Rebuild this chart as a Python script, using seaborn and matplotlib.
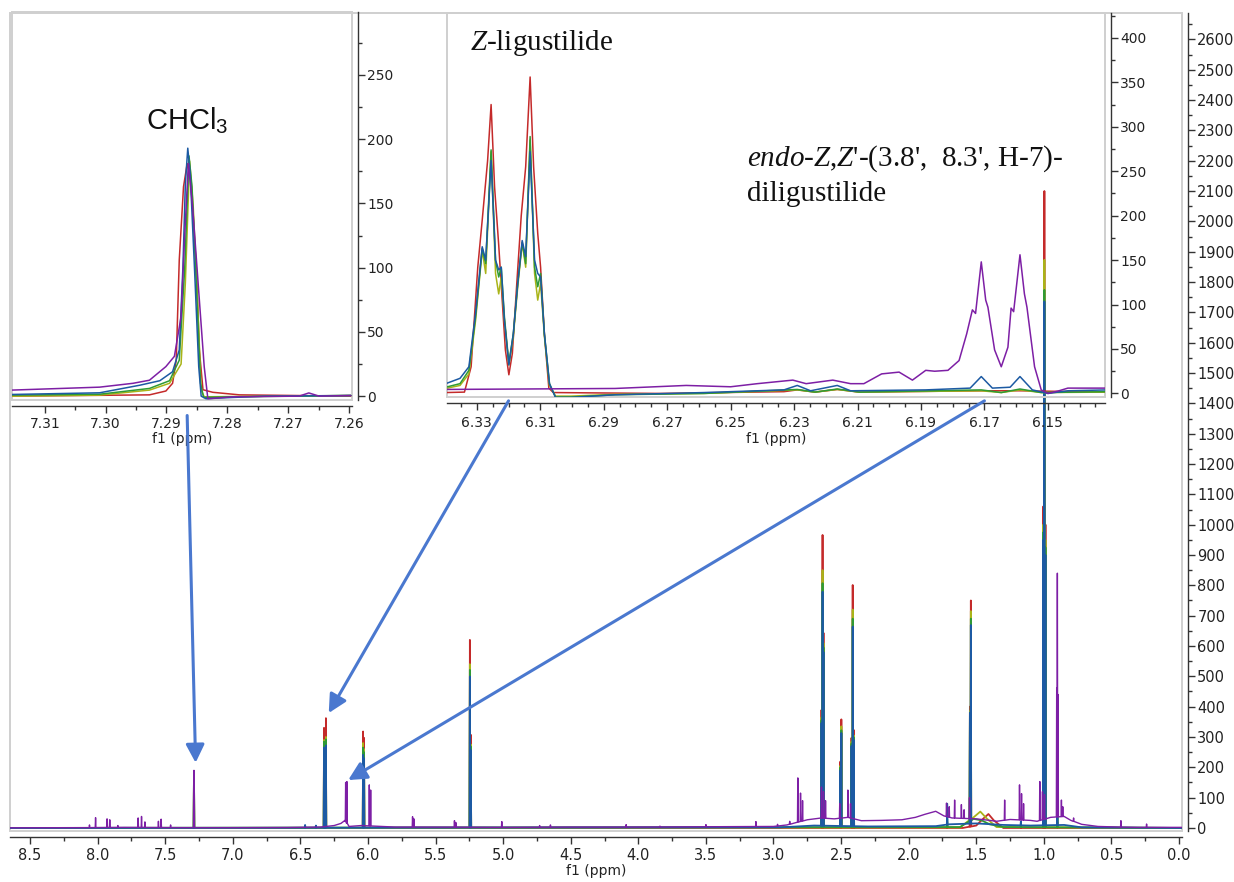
import numpy as np
import matplotlib
matplotlib.use("Agg")
import matplotlib.pyplot as plt
import seaborn as sns
from matplotlib.patches import Rectangle, ConnectionPatch
from matplotlib.ticker import FixedLocator, FormatStrFormatter

# ------------------------------------------------------------
# colours of the five spectra
# ------------------------------------------------------------
RED, YELLOW, GREEN, BLUE, PURPLE = "#c42a2a", "#a9b418", "#2f9a35", "#1c5aa3", "#7d1fa5"

# ------------------------------------------------------------
# main spectrum (f1 ppm, intensity)
# shared multiplet lines of the four extracts
# ------------------------------------------------------------
main_pk_ppm = [7.287, 6.465, 6.385, 6.325, 6.318, 6.311, 6.036, 6.029, 5.246, 5.239,
               2.645, 2.637, 2.630, 2.505, 2.498, 2.423, 2.414, 2.406, 1.715, 1.547,
               1.540, 1.170, 1.004, 0.996, 0.988, 0.900]
red_pk = [180, 3, 2, 330, 300, 362, 318, 297, 620, 307, 389, 966, 643, 219, 358, 297, 801,
          323, 10, 400, 750, 5, 1060, 2100, 1000, 20]
yellow_pk = [178, 3, 3, 290, 270, 300, 280, 260, 540, 275, 365, 850, 610, 205, 335, 285, 720,
             305, 20, 385, 715, 10, 1000, 1873, 950, 40]
green_pk = [183, 4, 4, 285, 265, 292, 265, 250, 521, 268, 355, 807, 595, 200, 322, 278, 690,
            298, 30, 380, 690, 10, 975, 1774, 925, 60]
blue_pk = [188, 10, 8, 265, 250, 272, 241, 230, 499, 257, 346, 779, 580, 190, 313, 270, 664,
           290, 80, 379, 669, 22, 950, 1736, 900, 103]

red_base_ppm = [8.65, 1.60, 1.50, 1.45, 1.41, 1.37, 1.30, -0.02]
red_base = [0, 0, 8, 30, 46, 25, 0, 0]
yellow_base_ppm = [8.65, 1.62, 1.52, 1.47, 1.42, 1.35, -0.02]
yellow_base = [0, 2, 35, 54, 30, 3, 0]
green_base_ppm = [8.65, 1.62, 1.52, 1.46, 1.40, 1.30, -0.02]
green_base = [0, 3, 30, 25, 12, 3, 0]
blue_base_ppm = [8.65, 2.95, 2.70, 2.30, 1.80, 1.70, 1.50, 1.30, 1.10, 0.85, 0.72, -0.02]
blue_base = [0, 2, 8, 5, 6, 12, 15, 10, 8, 10, 2, 0]

# purple extract: own baseline and lines
purple_base_ppm = [8.65, 8.10, 7.80, 7.40, 7.00, 6.60, 6.35, 6.25, 6.20, 6.17, 6.14, 6.05,
                   5.95, 5.80, 5.50, 5.00, 4.50, 4.00, 3.50, 3.00, 2.90, 2.75, 2.65, 2.55,
                   2.45, 2.35, 2.20, 2.05, 1.95, 1.88, 1.80, 1.74, 1.68, 1.50, 1.40, 1.35,
                   1.25, 1.10, 1.05, 0.95, 0.85, 0.80, 0.72, 0.60, 0.45, 0.30, -0.02]
purple_base = [0.5, 1, 2, 1, 1, 1.5, 3, 8, 15, 25, 5, 8, 6, 3, 3, 2, 3, 3, 4, 5, 10, 27, 33,
               30, 35, 24, 25, 27, 35, 45, 55, 40, 33, 30, 25, 22, 28, 25, 22, 35, 38, 25,
               12, 5, 3, 2, 2]
purple_pk_ppm = [8.06, 8.015, 7.93, 7.91, 7.85, 7.70, 7.675, 7.65, 7.55, 7.53, 7.46, 7.287,
                 6.165, 6.156, 5.99, 5.98, 5.67, 5.66, 5.36, 5.35, 5.01, 4.73, 4.65, 4.09,
                 3.84, 3.50, 3.13, 2.97, 2.88, 2.82, 2.80, 2.785, 2.645, 2.63, 2.615, 2.51,
                 2.45, 2.43, 1.72, 1.70, 1.66, 1.61, 1.59, 1.55, 1.29, 1.18, 1.165, 1.15,
                 1.03, 1.01, 0.995, 0.905, 0.90, 0.895, 0.87, 0.86, 0.78, 0.43, 0.24]
purple_pk = [10, 34, 30, 27, 8, 33, 38, 20, 22, 29, 10, 190, 150, 153, 142, 125, 37, 30, 24,
             18, 21, 8, 10, 11, 6, 11, 21, 12, 22, 165, 115, 90, 135, 120, 90, 80, 125, 80,
             82, 70, 92, 77, 60, 100, 92, 142, 113, 80, 153, 120, 110, 461, 840, 440, 92,
             70, 33, 24, 13]

# ------------------------------------------------------------
# inset 1: CHCl3 signal
# ------------------------------------------------------------
red1_ppm = [7.3155, 7.2928, 7.2901, 7.2890, 7.2884, 7.2879, 7.2872, 7.2866, 7.2860, 7.2851,
            7.2846, 7.2840, 7.2824, 7.2780, 7.2597]
red1 = [0, 1, 4, 10, 28, 106, 163, 181, 168, 100, 36, 5, 3, 1, 0]
yellow1_ppm = [7.3155, 7.3010, 7.2928, 7.2895, 7.2876, 7.2869, 7.2862, 7.2856, 7.2849, 7.2843,
               7.2838, 7.2597]
yellow1 = [0, 0.8, 4.7, 10, 25, 88, 183, 147, 75, 4.7, -0.5, 0.5]
green1_ppm = [7.3155, 7.3010, 7.2928, 7.2895, 7.2879, 7.2870, 7.2863, 7.2858, 7.2851, 7.2844,
              7.2839, 7.2791, 7.2597]
green1 = [0.8, 1.5, 6, 12, 28, 100, 187, 163, 88, 10, -1, -0.5, 0.5]
blue1_ppm = [7.3155, 7.3010, 7.2944, 7.2911, 7.2890, 7.2879, 7.2873, 7.2869, 7.2865, 7.2861,
             7.2854, 7.2847, 7.2843, 7.2835, 7.2791, 7.2737, 7.2597]
blue1 = [1.3, 2.6, 8.5, 12, 19, 36, 100, 165, 193, 173, 100, 23, 0, -2, -1, 0, 0.5]
purple1_ppm = [7.3155, 7.3010, 7.2955, 7.2928, 7.2901, 7.2887, 7.2876, 7.2870, 7.2864, 7.2857,
               7.2846, 7.2838, 7.2832, 7.2791, 7.2682, 7.2666, 7.2649, 7.2597]
purple1 = [4.7, 7, 10, 12.4, 23, 31, 62, 126, 181, 147, 75, 23, -2, -0.5, 0, 2.5, 0, 0.5]

# ------------------------------------------------------------
# inset 2: Z-ligustilide / diligustilide region
# ------------------------------------------------------------
red2_ppm = [6.3398, 6.3339, 6.3318, 6.3297, 6.3283, 6.3266, 6.3255, 6.3244, 6.3231, 6.3220,
            6.3210, 6.3199, 6.3188, 6.3174, 6.3160, 6.3146, 6.3132, 6.3121, 6.3108, 6.3099,
            6.3087, 6.3073, 6.3059, 6.2724, 6.2332, 6.2290, 6.2234, 6.2164, 6.2094, 6.1710,
            6.1588, 6.1311]
red2 = [1, 1.5, 30, 142, 195, 262, 325, 232, 167, 105, 49, 21, 45, 124, 200, 255, 356, 255,
        180, 142, 67, 6, 1, 0, 2, 4, 1.5, 4.5, 1.5, 3, 3, 1.5]
yg2_ppm = [6.3398, 6.3353, 6.3325, 6.3304, 6.3283, 6.3272, 6.3255, 6.3241, 6.3231, 6.3223,
           6.3213, 6.3199, 6.3185, 6.3171, 6.3157, 6.3146, 6.3132, 6.3118, 6.3108, 6.3099,
           6.3087, 6.3071, 6.3052, 6.3003, 6.2864, 6.2584, 6.2290, 6.2234, 6.2164, 6.2094,
           6.1710, 6.1647, 6.1588, 6.1521, 6.1311]
green2 = [7, 11, 26, 86, 163, 146, 274, 150, 131, 142, 86, 34, 67, 124, 170, 146, 289, 142,
          120, 135, 67, 11, -4, -4, -1.5, 0, 4.5, 1.5, 5, 1.5, 4, 1, 5, 1, 2]
yellow2 = [5.6, 9, 22, 82, 161, 135, 272, 135, 112, 131, 82, 32, 64, 120, 169, 142, 285, 135,
           105, 124, 64, 9, -3, -3, -1, 0, 4, 1.5, 4.5, 1.5, 3, 1, 4, 1, 1.5]
blue2_ppm = [6.3398, 6.3353, 6.3325, 6.3304, 6.3283, 6.3272, 6.3255, 6.3241, 6.3231, 6.3223,
             6.3213, 6.3199, 6.3185, 6.3171, 6.3157, 6.3146, 6.3132, 6.3118, 6.3108, 6.3099,
             6.3087, 6.3071, 6.3052, 6.3003, 6.2864, 6.2584, 6.2332, 6.2290, 6.2248, 6.2164,
             6.2122, 6.1885, 6.1745, 6.1710, 6.1675, 6.1619, 6.1588, 6.1549, 6.1500, 6.1437,
             6.1311]
blue2 = [11, 17, 30, 90, 165, 150, 262, 150, 139, 142, 82, 32, 67, 124, 172, 154, 272, 150,
         135, 131, 67, 11, -4.5, -4.5, -1.5, 1, 4, 9, 3, 9, 3, 4, 6, 19, 6, 7, 19, 4, 0, 3, 4]
purple2_ppm = [6.3398, 6.2864, 6.2640, 6.2500, 6.2416, 6.2304, 6.2262, 6.2178, 6.2122, 6.2080,
               6.2024, 6.1969, 6.1927, 6.1885, 6.1857, 6.1815, 6.1780, 6.1756, 6.1738, 6.1728,
               6.1710, 6.1696, 6.1689, 6.1668, 6.1647, 6.1626, 6.1616, 6.1608, 6.1588, 6.1574,
               6.1566, 6.1542, 6.1521, 6.1500, 6.1465, 6.1437, 6.1311]
purple2 = [4.5, 5.6, 9, 7.5, 11, 15, 11, 15, 11, 11, 22, 24, 15, 26, 25, 26, 37, 67, 94, 90,
           148, 105, 97, 49, 30, 52, 96, 92, 156, 112, 97, 30, 4, 0, 3, 6, 6]

# tick positions
main_xticks = [8.5, 8.0, 7.5, 7.0, 6.5, 6.0, 5.5, 5.0, 4.5, 4.0, 3.5, 3.0, 2.5, 2.0, 1.5, 1.0, 0.5, 0.0]
main_yticks = list(range(0, 2700, 100))
in1_xticks = [7.31, 7.30, 7.29, 7.28, 7.27, 7.26]
in1_yticks = [0, 50, 100, 150, 200, 250]
in2_xticks = [6.33, 6.31, 6.29, 6.27, 6.25, 6.23, 6.21, 6.19, 6.17, 6.15]
in2_yticks = [0, 50, 100, 150, 200, 250, 300, 350, 400]


def spectrum(base_ppm, base_val, pk_ppm, pk_h, w=0.0025):
    """baseline points plus narrow lines, ordered from high to low ppm"""
    bx, by = np.asarray(base_ppm, float), np.asarray(base_val, float)
    px, ph = np.asarray(pk_ppm, float), np.asarray(pk_h, float)
    pb = np.interp(px, bx[::-1], by[::-1])
    xs = np.concatenate([bx, px + w, px, px - w])
    ys = np.concatenate([by, pb, ph, pb])
    order = np.argsort(-xs, kind="stable")
    return xs[order], ys[order]


def draw(a, x, y, color, lw):
    sns.lineplot(x=x, y=y, ax=a, color=color, lw=lw, sort=False, estimator=None)


def style_axes(a, xmaj, xminor, ymaj, yminor, xfmt, xsize=10):
    for side in ("top", "left"):
        a.spines[side].set_visible(False)
    for side in ("right", "bottom"):
        a.spines[side].set_position(("outward", 4))
        a.spines[side].set_color("#333333")
        a.spines[side].set_linewidth(1.0)
    a.add_patch(Rectangle((0, 0), 1, 1, transform=a.transAxes, fill=False,
                          ec="#cfcfcf", lw=1.4, clip_on=False, zorder=0.5))
    a.yaxis.tick_right()
    a.xaxis.set_major_locator(FixedLocator(xmaj))
    a.xaxis.set_minor_locator(FixedLocator(xminor))
    a.yaxis.set_major_locator(FixedLocator(ymaj))
    a.yaxis.set_minor_locator(FixedLocator(yminor))
    a.xaxis.set_major_formatter(FormatStrFormatter(xfmt))
    a.yaxis.set_major_formatter(FormatStrFormatter("%d"))
    a.tick_params(which="major", length=5, width=1, color="#333333", labelcolor="#222222",
                  direction="out", pad=3)
    a.tick_params(which="minor", length=3, width=1, color="#333333", direction="out")
    a.tick_params(axis="x", labelsize=xsize)
    a.tick_params(axis="y", labelsize=10, pad=2)
    a.set_xlabel("f1 (ppm)", fontsize=10, labelpad=1, color="#222222")
    a.set_ylabel("")


sns.set_style("ticks")
plt.rcParams["font.family"] = ["DejaVu Sans"]
plt.rcParams["mathtext.fontset"] = "custom"
plt.rcParams["mathtext.rm"] = "Liberation Serif"
plt.rcParams["mathtext.it"] = "Liberation Serif:italic"
plt.rcParams["mathtext.sf"] = "Liberation Sans"

fig = plt.figure(figsize=(12.34, 8.82), dpi=100, facecolor="white")
W, H = 1234.0, 882.0
ax = fig.add_axes([10 / W, 1 - 831 / H, 1172 / W, 818 / H])
ax1 = fig.add_axes([12 / W, 1 - 400 / H, 340 / W, 388 / H])
ax2 = fig.add_axes([447 / W, 1 - 397 / H, 658 / W, 384 / H])

# ---------------- main spectrum ----------------
ax.set_facecolor("white")
for base_ppm, base, pk, col in [(red_base_ppm, red_base, red_pk, RED),
                                (yellow_base_ppm, yellow_base, yellow_pk, YELLOW),
                                (green_base_ppm, green_base, green_pk, GREEN),
                                (blue_base_ppm, blue_base, blue_pk, BLUE)]:
    x, y = spectrum(base_ppm, base, main_pk_ppm, pk)
    draw(ax, x, y, col, 1.3)
x, y = spectrum(purple_base_ppm, purple_base, purple_pk_ppm, purple_pk)
draw(ax, x, y, PURPLE, 1.0)
ax.set_xlim(8.648, -0.022)
ax.set_ylim(-10, 2687)
style_axes(ax, main_xticks, [t - 0.25 for t in main_xticks], main_yticks,
           [t + 50 for t in main_yticks], "%.1f", xsize=10.5)
ax.tick_params(axis="y", labelsize=10.5)

# ---------------- inset 1 ----------------
ax1.set_facecolor("none")
for xs, ys, col in [(red1_ppm, red1, RED), (yellow1_ppm, yellow1, YELLOW),
                    (green1_ppm, green1, GREEN), (blue1_ppm, blue1, BLUE),
                    (purple1_ppm, purple1, PURPLE)]:
    draw(ax1, xs, ys, col, 1.1)
ax1.set_xlim(7.3154, 7.2595)
ax1.set_ylim(-3, 299)
style_axes(ax1, in1_xticks, [t - 0.005 for t in in1_xticks], in1_yticks,
           [t + 25 for t in in1_yticks], "%.2f")
ax1.text(7.2866, 207, r"CHCl$_{\mathsf{3}}$", ha="center", va="baseline", fontsize=21,
         family="Liberation Sans", color="#111111")

# ---------------- inset 2 ----------------
ax2.set_facecolor("none")
for xs, ys, col in [(red2_ppm, red2, RED), (yg2_ppm, yellow2, YELLOW),
                    (yg2_ppm, green2, GREEN), (blue2_ppm, blue2, BLUE),
                    (purple2_ppm, purple2, PURPLE)]:
    draw(ax2, xs, ys, col, 1.1)
ax2.set_xlim(6.3394, 6.132)
ax2.set_ylim(-4, 428)
in2_minor = [round(6.335 - 0.005 * i, 3) for i in range(41)]
style_axes(ax2, in2_xticks, in2_minor, in2_yticks, [t + 25 for t in in2_yticks], "%.2f")
ax2.tick_params(axis="x", pad=5)
ax2.text(6.3323, 386, r"$\mathit{Z}$-ligustilide", ha="left", va="baseline", fontsize=21,
         family="Liberation Serif", color="#111111")
ax2.text(6.2448, 256, r"$\mathit{endo}$-$\mathit{Z}$,$\mathit{Z}$'-(3.8',  8.3', H-7)-",
         ha="left", va="baseline", fontsize=21, family="Liberation Serif", color="#111111")
ax2.text(6.2448, 217, "diligustilide", ha="left", va="baseline", fontsize=21,
         family="Liberation Serif", color="#111111")

# ---------------- arrows from insets to the main spectrum ----------------
arrow_kw = dict(arrowstyle="-|>,head_length=0.55,head_width=0.28", mutation_scale=20,
                color="#4a78cf", lw=2.2, zorder=20)
for src_ax, xa, ya, xb, yb in [(ax1, 7.2866, -0.04, 7.275, 215),
                               (ax2, 6.32, -0.01, 6.29, 379),
                               (ax2, 6.17, -0.01, 6.146, 158)]:
    con = ConnectionPatch(xyA=(xa, ya), coordsA=src_ax.get_xaxis_transform(),
                          xyB=(xb, yb), coordsB=ax.transData, **arrow_kw)
    fig.add_artist(con)

fig.savefig("out.png", dpi=100, facecolor="white")
